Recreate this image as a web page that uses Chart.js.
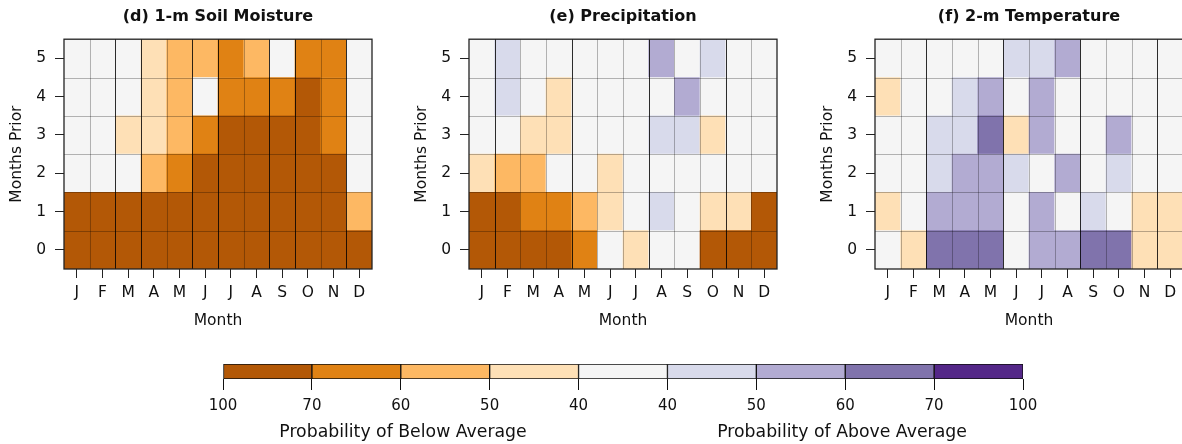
<!DOCTYPE html>
<html>
<head>
<meta charset="utf-8">
<script src="https://cdn.jsdelivr.net/npm/chart.js@4.4.1/dist/chart.umd.min.js"></script>
<style>
  body { margin: 0; width: 1182px; height: 444px; overflow: hidden; background: #fff; position: relative; font-family: "DejaVu Sans", sans-serif; }
  canvas { position: absolute; }
  .cbtitle { position: absolute; top: 421px; font-size: 17.3px; color: #111; transform: translateX(-50%); white-space: nowrap; }
</style>
</head>
<body>
<canvas id="soilChart" width="436" height="340" style="left:0px;top:0px"></canvas>
<canvas id="precipChart" width="436" height="340" style="left:405px;top:0px"></canvas>
<canvas id="tempChart" width="436" height="340" style="left:811px;top:0px"></canvas>
<canvas id="cbChart" width="1182" height="104" style="left:0px;top:340px"></canvas>
<div class="cbtitle" style="left:403px">Probability of Below Average</div>
<div class="cbtitle" style="left:842px">Probability of Above Average</div>
<script>
// categorias
var months = ['J', 'F', 'M', 'A', 'M', 'J', 'J', 'A', 'S', 'O', 'N', 'D'];
var monthsPrior = [0, 1, 2, 3, 4, 5];

// niveles: -4..-1 = below average (100-70, 70-60, 60-50, 50-40), 0 = neutral, 1..4 = above average
// cada fila es un "months prior" (0 abajo, 5 arriba)
var soilLevels = [
  [-4, -4, -4, -4, -4, -4, -4, -4, -4, -4, -4, -4],
  [-4, -4, -4, -4, -4, -4, -4, -4, -4, -4, -4, -2],
  [0, 0, 0, -2, -3, -4, -4, -4, -4, -4, -4, 0],
  [0, 0, -1, -1, -2, -3, -4, -4, -4, -4, -3, 0],
  [0, 0, 0, -1, -2, 0, -3, -3, -3, -4, -3, 0],
  [0, 0, 0, -1, -2, -2, -3, -2, 0, -3, -3, 0]
];
var precipLevels = [
  [-4, -4, -4, -4, -3, 0, -1, 0, 0, -4, -4, -4],
  [-4, -4, -3, -3, -2, -1, 0, 1, 0, -1, -1, -4],
  [-1, -2, -2, 0, 0, -1, 0, 0, 0, 0, 0, 0],
  [0, 0, -1, -1, 0, 0, 0, 1, 1, -1, 0, 0],
  [0, 1, 0, -1, 0, 0, 0, 0, 2, 0, 0, 0],
  [0, 1, 0, 0, 0, 0, 0, 2, 0, 1, 0, 0]
];
var tempLevels = [
  [0, -1, 3, 3, 3, 0, 2, 2, 3, 3, -1, -1],
  [-1, 0, 2, 2, 2, 0, 2, 0, 1, 0, -1, -1],
  [0, 0, 1, 2, 2, 1, 0, 2, 0, 1, 0, 0],
  [0, 0, 1, 1, 3, -1, 2, 0, 0, 2, 0, 0],
  [-1, 0, 0, 1, 2, 0, 2, 0, 0, 0, 0, 0],
  [0, 0, 0, 0, 0, 1, 1, 2, 0, 0, 0, 0]
];

// lineas oscuras entre meses (indice del mes a la derecha de la linea)
var soilEdges = [2, 3, 5, 6, 8, 9, 11];
var precipEdges = [1, 4, 7, 10];
var tempEdges = [2, 5, 8, 11];

// barra de colores
var cbColors = ['#b35806', '#e08214', '#fdb863', '#fee0b6', '#f5f5f5', '#d8daeb', '#b2abd2', '#8073ac', '#542788'];
var cbTickLabels = ['100', '70', '60', '50', '40', '40', '50', '60', '70', '100'];

var FONT = '"DejaVu Sans", sans-serif';

function levelColor(l) {
  return cbColors[l + 4];
}

// rejilla entre celdas, lineas de temporada y marco
var panelFrame = {
  id: 'panelFrame',
  afterDatasetsDraw: function (chart) {
    var ctx = chart.ctx, a = chart.chartArea, xs = chart.scales.x, ys = chart.scales.y;
    var edges = chart.options.plugins.panelFrame.edges;
    function colEdge(e) {
      return Math.round((xs.getPixelForValue(e - 1) + xs.getPixelForValue(e)) / 2) + 0.5;
    }
    ctx.save();
    ctx.lineWidth = 1;
    ctx.strokeStyle = 'rgba(0,0,0,0.28)';
    for (var i = 1; i < months.length; i++) {
      var px = colEdge(i);
      ctx.beginPath(); ctx.moveTo(px, a.top); ctx.lineTo(px, a.bottom); ctx.stroke();
    }
    for (var r = 1; r < monthsPrior.length; r++) {
      var py = Math.round(ys.getPixelForValue(r - 0.5)) + 0.5;
      ctx.beginPath(); ctx.moveTo(a.left, py); ctx.lineTo(a.right, py); ctx.stroke();
    }
    ctx.strokeStyle = 'rgba(0,0,0,0.75)';
    edges.forEach(function (e) {
      var px = colEdge(e);
      ctx.beginPath(); ctx.moveTo(px, a.top); ctx.lineTo(px, a.bottom); ctx.stroke();
    });
    ctx.strokeStyle = '#222';
    ctx.lineWidth = 1.3;
    ctx.strokeRect(a.left, a.top, a.right - a.left, a.bottom - a.top);
    ctx.restore();
  }
};

function makePanel(id, title, levels, edges) {
  var datasets = monthsPrior.map(function (r) {
    return {
      data: months.map(function () { return [r - 0.5, r + 0.5]; }),
      backgroundColor: levels[r].map(levelColor),
      borderWidth: 0,
      barPercentage: 1,
      categoryPercentage: 1,
      grouped: false
    };
  });
  return new Chart(document.getElementById(id), {
    type: 'bar',
    data: { labels: months, datasets: datasets },
    plugins: [panelFrame],
    options: {
      responsive: false,
      animation: false,
      layout: { padding: 0 },
      plugins: {
        legend: { display: false },
        tooltip: { enabled: false },
        title: {
          display: true,
          text: title,
          color: '#111',
          font: { family: FONT, size: 16, weight: 'bold' },
          padding: { top: 7, bottom: 13 }
        },
        panelFrame: { edges: edges }
      },
      scales: {
        x: {
          type: 'category',
          offset: true,
          grid: { offset: false, drawOnChartArea: false, tickLength: 9, color: '#222' },
          border: { display: false },
          ticks: { color: '#111', font: { family: FONT, size: 15.5 }, padding: 6, maxRotation: 0, autoSkip: false },
          title: { display: true, text: 'Month', color: '#111', font: { family: FONT, size: 15.5 }, padding: { top: 2, bottom: 10 } },
          afterFit: function (s) { s.height = 71; }
        },
        y: {
          type: 'linear',
          min: -0.5,
          max: 5.5,
          afterBuildTicks: function (s) { s.ticks = monthsPrior.map(function (v) { return { value: v }; }); },
          grid: { drawOnChartArea: false, tickLength: 9, color: '#222' },
          border: { display: false },
          ticks: { color: '#111', font: { family: FONT, size: 15.5 }, padding: 9 },
          title: { display: true, text: 'Months Prior', color: '#111', font: { family: FONT, size: 15.5 }, padding: { top: 8, bottom: 0 } },
          afterFit: function (s) { s.width = 64; }
        },
        yRight: {
          type: 'linear',
          position: 'right',
          display: true,
          grid: { display: false },
          border: { display: false },
          ticks: { display: false },
          afterFit: function (s) { s.width = 64; }
        }
      }
    }
  });
}

var soilChart = makePanel('soilChart', '(d) 1-m Soil Moisture', soilLevels, soilEdges);
var precipChart = makePanel('precipChart', '(e) Precipitation', precipLevels, precipEdges);
var tempChart = makePanel('tempChart', '(f) 2-m Temperature', tempLevels, tempEdges);

// barra de colores
var cbChart = new Chart(document.getElementById('cbChart'), {
  type: 'bar',
  data: {
    labels: ['cb'],
    datasets: cbColors.map(function (c, i) {
      return {
        data: [[i, i + 1]],
        backgroundColor: c,
        borderColor: '#111',
        borderWidth: 1,
        borderSkipped: false,
        barPercentage: 1,
        categoryPercentage: 1,
        grouped: false
      };
    })
  },
  options: {
    indexAxis: 'y',
    responsive: false,
    animation: false,
    layout: { padding: { left: 223, right: 159, top: 24, bottom: 0 } },
    plugins: { legend: { display: false }, tooltip: { enabled: false } },
    scales: {
      x: {
        type: 'linear',
        min: 0,
        max: 9,
        afterBuildTicks: function (s) { s.ticks = cbTickLabels.map(function (t, i) { return { value: i }; }); },
        grid: { drawOnChartArea: false, tickLength: 11, color: '#111' },
        border: { display: false },
        ticks: {
          color: '#111',
          font: { family: FONT, size: 15 },
          padding: 7,
          callback: function (v, i) { return cbTickLabels[i]; }
        },
        afterFit: function (s) { s.height = 65; }
      },
      y: { display: false, offset: true }
    }
  }
});
</script>
</body>
</html>
